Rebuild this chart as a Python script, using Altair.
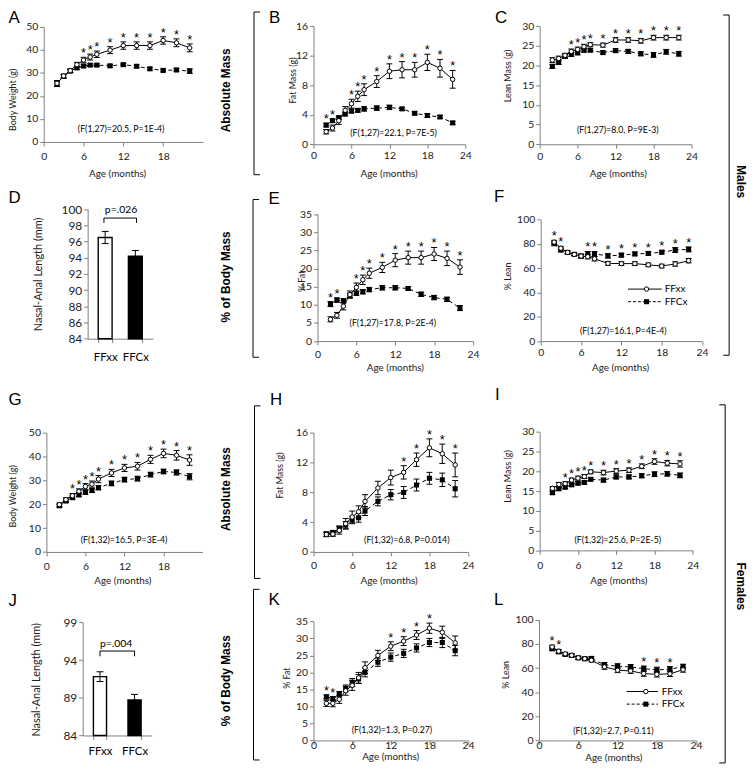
import altair as alt
import pandas as pd

OFF = 8
W, H = 746, 758


def c(v):
    return v - OFF


FONT = "Lato"
LFONT = "Liberation Sans"
AXC = "#808080"

ages = [2, 3, 4, 5, 6, 7, 8, 10, 12, 14, 16, 18, 20, 22]
groups = ["FFxx", "FFCx"]

# ---------------- data (means and SEM) ----------------
A_xx = [25.5, 28.7, 31.0, 33.6, 35.6, 36.9, 38.1, 39.9, 41.9, 41.9, 41.9, 44.1, 43.1, 40.9]
A_xx_se = [1.2, 0.8, 0.8, 1.0, 1.2, 1.3, 1.4, 1.5, 1.6, 1.6, 1.6, 1.6, 1.7, 1.7]
A_cx = [25.3, 28.5, 30.8, 32.2, 33.0, 33.4, 33.4, 33.1, 33.6, 32.9, 31.8, 31.1, 31.3, 30.8]
A_cx_se = [1.2, 0.8, 0.6, 0.6, 0.6, 0.6, 0.6, 0.6, 0.6, 0.6, 0.6, 0.6, 0.7, 1.0]
A_stars = [6, 7, 8, 10, 12, 14, 16, 18, 20, 22]

B_xx = [1.7, 2.2, 3.2, 4.6, 5.5, 6.5, 7.4, 8.5, 9.9, 10.1, 10.1, 11.1, 10.3, 8.8]
B_xx_se = [0.3, 0.4, 0.5, 0.5, 0.6, 0.7, 0.8, 0.8, 1.0, 1.1, 1.0, 1.1, 1.2, 1.2]
B_cx = [2.6, 3.2, 3.6, 4.1, 4.5, 4.6, 4.8, 4.9, 5.0, 4.8, 4.2, 3.9, 3.7, 2.9]
B_cx_se = [0.25, 0.25, 0.25, 0.25, 0.25, 0.25, 0.3, 0.3, 0.3, 0.2, 0.2, 0.25, 0.2, 0.2]
B_stars = [2, 3, 6, 7, 8, 10, 12, 14, 16, 18, 20, 22]

C_xx = [21.4, 21.8, 22.6, 23.6, 24.1, 24.8, 25.3, 25.2, 26.5, 26.5, 26.3, 27.1, 27.1, 27.1]
C_xx_se = [0.6, 0.6, 0.5, 0.6, 0.6, 0.6, 0.5, 0.5, 0.6, 0.6, 0.6, 0.6, 0.6, 0.6]
C_cx = [19.8, 20.9, 22.3, 22.8, 23.3, 23.9, 23.9, 23.3, 23.8, 23.6, 23.0, 22.7, 23.5, 23.0]
C_cx_se = [0.5, 0.6, 0.5, 0.5, 0.6, 0.5, 0.4, 0.4, 0.5, 0.5, 0.5, 0.6, 0.6, 0.6]
C_stars = [5, 6, 7, 8, 10, 12, 14, 16, 18, 20, 22]

E_xx = [6.0, 7.1, 9.6, 12.8, 14.8, 16.9, 18.7, 20.3, 22.3, 23.0, 23.0, 24.0, 22.8, 20.4]
E_xx_se = [0.7, 0.8, 1.0, 1.0, 1.2, 1.3, 1.4, 1.4, 1.8, 1.8, 1.8, 1.8, 2.0, 2.0]
E_cx = [10.2, 11.3, 11.1, 12.6, 13.2, 13.6, 14.2, 14.7, 14.7, 14.5, 12.9, 12.0, 11.5, 9.1]
E_cx_se = [0.7, 0.6, 0.6, 0.6, 0.6, 0.6, 0.6, 0.6, 0.6, 0.5, 0.6, 0.6, 0.6, 0.7]
E_stars = [2, 3, 6, 7, 8, 10, 12, 14, 16, 18, 20, 22]

F_xx = [81.5, 76.5, 73.0, 71.4, 70.0, 69.5, 67.8, 64.0, 63.8, 63.8, 62.8, 61.8, 63.5, 66.2]
F_xx_se = [1.5, 1.5, 1.2, 1.0, 1.5, 1.8, 1.8, 1.5, 1.5, 1.5, 1.5, 1.5, 1.8, 1.8]
F_cx = [80.2, 75.0, 73.0, 71.4, 70.0, 71.8, 71.8, 70.2, 70.8, 71.8, 72.2, 73.2, 75.0, 75.5]
F_cx_se = [1.5, 1.5, 1.2, 1.0, 1.5, 2.0, 2.0, 1.8, 1.5, 1.5, 1.5, 1.5, 2.0, 2.0]
F_stars = [2, 3, 7, 8, 10, 12, 14, 16, 18, 20, 22]

G_xx = [19.9, 22.0, 23.6, 25.5, 27.5, 28.5, 30.6, 33.2, 35.3, 36.0, 38.9, 41.4, 40.6, 38.6]
G_xx_se = [0.7, 0.8, 1.0, 1.0, 1.2, 1.3, 1.5, 1.5, 1.5, 1.6, 1.7, 1.8, 2.0, 2.2]
G_cx = [19.4, 21.4, 22.8, 24.0, 25.0, 25.8, 27.0, 28.8, 30.4, 30.8, 32.5, 33.8, 33.4, 31.6]
G_cx_se = [0.6, 0.6, 0.7, 0.8, 0.8, 0.8, 0.9, 1.0, 1.0, 1.0, 1.0, 1.0, 1.1, 1.3]
G_stars = [4, 5, 6, 7, 8, 10, 12, 14, 16, 18, 20, 22]

H_xx = [2.35, 2.4, 2.9, 3.8, 4.7, 5.4, 6.8, 8.6, 10.0, 10.7, 12.4, 14.0, 13.2, 11.7]
H_xx_se = [0.3, 0.3, 0.5, 0.7, 0.8, 0.8, 0.9, 0.9, 1.0, 0.9, 0.9, 1.2, 1.3, 1.6]
H_cx = [2.4, 2.6, 3.1, 3.6, 4.3, 4.6, 5.5, 6.8, 7.7, 8.0, 9.0, 9.9, 9.7, 8.5]
H_cx_se = [0.3, 0.3, 0.4, 0.5, 0.5, 0.6, 0.6, 0.6, 0.7, 0.8, 0.8, 0.8, 0.9, 1.1]
H_stars = [14, 16, 18, 20, 22]

I_xx = [15.7, 16.7, 16.9, 17.8, 18.3, 18.7, 19.9, 19.7, 20.1, 20.3, 21.3, 22.5, 22.1, 21.9]
I_xx_se = [0.4, 0.5, 0.5, 0.5, 0.5, 0.5, 0.5, 0.6, 0.6, 0.6, 0.6, 0.7, 0.7, 0.8]
I_cx = [14.6, 15.6, 16.0, 16.6, 17.0, 17.2, 18.0, 17.8, 18.6, 18.6, 18.9, 19.3, 19.4, 19.0]
I_cx_se = [0.4, 0.4, 0.4, 0.4, 0.4, 0.4, 0.4, 0.5, 0.5, 0.5, 0.5, 0.6, 0.6, 0.6]
I_stars = [4, 5, 6, 7, 8, 10, 12, 14, 16, 18, 20, 22]

K_xx = [10.9, 10.9, 12.1, 14.6, 16.2, 18.4, 21.4, 25.0, 27.7, 29.2, 31.0, 33.0, 31.8, 28.7]
K_xx_se = [0.9, 1.0, 1.2, 1.3, 1.5, 1.6, 1.7, 1.5, 1.3, 1.3, 1.3, 1.5, 1.8, 2.0]
K_cx = [12.8, 12.3, 13.6, 15.3, 17.0, 18.1, 20.0, 23.0, 24.5, 25.6, 27.2, 28.8, 28.8, 26.4]
K_cx_se = [0.6, 0.6, 0.8, 1.0, 1.2, 1.3, 1.3, 1.2, 1.2, 1.2, 1.2, 1.2, 1.5, 1.5]
K_stars = [2, 3, 12, 14, 16, 18]

L_xx = [77.5, 74.0, 71.8, 70.6, 68.5, 67.8, 66.5, 61.0, 58.2, 57.6, 55.4, 54.8, 55.2, 58.6]
L_xx_se = [1.5, 1.5, 1.2, 1.2, 1.2, 1.2, 1.5, 2.0, 2.0, 2.0, 2.2, 2.2, 2.2, 2.0]
L_cx = [76.0, 73.5, 71.3, 70.5, 68.5, 67.7, 68.0, 62.6, 61.6, 60.9, 59.5, 58.5, 59.0, 61.2]
L_cx_se = [1.5, 1.5, 1.2, 1.2, 1.2, 1.2, 1.5, 2.0, 2.0, 2.0, 2.2, 2.2, 2.2, 2.0]
L_stars = [2, 3, 16, 18, 20]

D_means = [96.5, 94.2]
D_sems = [0.75, 0.7]
J_means = [91.8, 88.7]
J_sems = [0.65, 0.75]

# ---------------- layout (image pixel coordinates) ----------------
GEOM = {
    "A": dict(x0=44, xpm=6.69, xmax=24, xticks=[0, 6, 12, 18], y0=140, y1=24, ymax=50, ystep=10,
              ytitle="Body Weight (g)", ytx=13, yty=97, xtx=118, xty=172, xlp=10.3,
              note="(F(1,27)=20.5, P=1E-4)", nx=122, ny=127, letter="A", lx=8.5, ly=15),
    "B": dict(x0=316, xpm=6.375, xmax=24, xticks=[0, 6, 12, 18, 24], y0=142.3, y1=23.3, ymax=16, ystep=4,
              ytitle="Fat Mass (g)", ytx=295, yty=77.5, xtx=391.7, xty=172, xlp=7.7,
              note="(F(1,27)=22.1, P=7E-5)", nx=396.7, ny=130.7, letter="B", lx=271, ly=15),
    "C": dict(x0=544, xpm=6.375, xmax=24, xticks=[0, 6, 12, 18, 24], y0=142.3, y1=23.3, ymax=30, ystep=5,
              ytitle="Lean Mass (g)", ytx=511.7, yty=73, xtx=622.7, xty=172.3, xlp=8.7,
              note="(F(1,27)=8.0, P=9E-3)", nx=622.7, ny=128.3, letter="C", lx=499, ly=15),
    "E": dict(x0=320, xpm=6.53, xmax=24, xticks=[0, 6, 12, 18, 24], y0=340.7, y1=212.7, ymax=35, ystep=5,
              ytitle="% Fat", ytx=304, yty=280, xtx=398, xty=367, xlp=10,
              note="(F(1,27)=17.8, P=2E-4)", nx=396, ny=322.3, letter="E", lx=270.5, ly=198),
    "F": dict(x0=545, xpm=6.78, xmax=24, xticks=[0, 6, 12, 18, 24], y0=340.7, y1=218.3, ymax=100, ystep=20,
              ytitle="% Lean", ytx=511.7, yty=275, xtx=625, xty=367, xlp=7.7,
              note="(F(1,27)=16.1, P=4E-4)", nx=628.3, ny=330.7, letter="F", lx=498, ly=195),
    "G": dict(x0=46.7, xpm=6.56, xmax=24, xticks=[0, 6, 12, 18], y0=553.3, y1=433.3, ymax=50, ystep=10,
              ytitle="Body Weight (g)", ytx=13, yty=496.7, xtx=123.3, xty=581.7, xlp=10.4,
              note="(F(1,32)=16.5, P=3E-4)", nx=125, ny=541, letter="G", lx=8.5, ly=400),
    "H": dict(x0=316, xpm=6.49, xmax=24, xticks=[0, 6, 12, 18, 24], y0=553.3, y1=433.3, ymax=16, ystep=4,
              ytitle="Fat Mass (g)", ytx=281.7, yty=475.7, xtx=391.7, xty=581.7, xlp=10,
              note="(F(1,32)=6.8, P=0.014)", nx=410, ny=541, letter="H", lx=272, ly=400),
    "I": dict(x0=544, xpm=6.43, xmax=24, xticks=[0, 6, 12, 18, 24], y0=551.7, y1=432.3, ymax=30, ystep=5,
              ytitle="Lean Mass (g)", ytx=511.7, yty=476.7, xtx=623.3, xty=581.7, xlp=11,
              note="(F(1,32)=25.6, P=2E-5)", nx=622.7, ny=541, letter="I", lx=499, ly=395),
    "K": dict(x0=316, xpm=6.49, xmax=24, xticks=[0, 6, 12, 18, 24], y0=743.3, y1=623.3, ymax=35, ystep=5,
              ytitle="% Fat", ytx=288.3, yty=680, xtx=393.3, xty=760, xlp=0.7,
              note="(F(1,32)=1.3, P=0.27)", nx=395, ny=733.3, letter="K", lx=270.5, ly=601.7),
    "L": dict(x0=543.3, xpm=6.6, xmax=24, xticks=[0, 6, 12, 18, 24], y0=743.3, y1=621.7, ymax=100, ystep=20,
              ytitle="% Lean", ytx=509.3, yty=676.7, xtx=618.3, xty=760.5, xlp=1.2,
              note="(F(1,32)=2.7, P=0.11)", nx=618.3, ny=734, letter="L", lx=498, ly=601.7),
}

SERIES = {
    "A": (A_xx, A_xx_se, A_cx, A_cx_se, A_stars),
    "B": (B_xx, B_xx_se, B_cx, B_cx_se, B_stars),
    "C": (C_xx, C_xx_se, C_cx, C_cx_se, C_stars),
    "E": (E_xx, E_xx_se, E_cx, E_cx_se, E_stars),
    "F": (F_xx, F_xx_se, F_cx, F_cx_se, F_stars),
    "G": (G_xx, G_xx_se, G_cx, G_cx_se, G_stars),
    "H": (H_xx, H_xx_se, H_cx, H_cx_se, H_stars),
    "I": (I_xx, I_xx_se, I_cx, I_cx_se, I_stars),
    "K": (K_xx, K_xx_se, K_cx, K_cx_se, K_stars),
    "L": (L_xx, L_xx_se, L_cx, L_cx_se, L_stars),
}

DUMMY = pd.DataFrame({"d": [0]})
layers = []


def text_at(txt, x, y, size, font=FONT, weight="normal", angle=0, align="center", baseline="middle"):
    kw = dict(text=txt, font=font, fontSize=size, fontWeight=weight, align=align,
              baseline=baseline, color="black")
    if angle:
        kw["angle"] = angle
    return alt.Chart(DUMMY).mark_text(**kw).encode(x=alt.value(c(x)), y=alt.value(c(y)))


def hrule(x1, x2, y, dash=None, width=1, color="black"):
    kw = dict(color=color, strokeWidth=width)
    if dash:
        kw["strokeDash"] = dash
    return alt.Chart(DUMMY).mark_rule(**kw).encode(
        x=alt.value(c(x1)), x2=alt.value(c(x2)), y=alt.value(c(y)))


def vrule(x, y1, y2, width=1, color="black"):
    return alt.Chart(DUMMY).mark_rule(color=color, strokeWidth=width).encode(
        x=alt.value(c(x)), y=alt.value(c(y1)), y2=alt.value(c(y2)))


def line_panel(key):
    g = GEOM[key]
    m_xx, s_xx, m_cx, s_cx, star_ages = SERIES[key]
    rows = []
    for grp, m, s in (("FFxx", m_xx, s_xx), ("FFCx", m_cx, s_cx)):
        for a, mm, ss in zip(ages, m, s):
            rows.append({"age": a, "group": grp, "mean": mm, "lo": mm - ss, "hi": mm + ss})
    df = pd.DataFrame(rows)
    top = df.groupby("age")["hi"].max()
    sdf = pd.DataFrame({"age": star_ages, "top": [float(top[a]) for a in star_ages]})

    xs = alt.Scale(domain=[0, g["xmax"]], range=[c(g["x0"]), c(g["x0"] + g["xmax"] * g["xpm"])],
                   nice=False, zero=False)
    ys = alt.Scale(domain=[0, g["ymax"]], range=[c(g["y0"]), c(g["y1"])], nice=False, zero=False)
    yticks = list(range(0, g["ymax"] + 1, g["ystep"]))
    xaxis = alt.Axis(orient="bottom", offset=c(g["y0"]) - H, values=g["xticks"], title="Age (months)",
                     titleX=c(g["xtx"]), titleY=g["xty"] - g["y0"], titleBaseline="middle",
                     titleAlign="center", titleFontSize=10, labelFontSize=10.5,
                     labelPadding=g["xlp"], labelBaseline="middle", labelFlush=False,
                     labelOverlap=False)
    yaxis = alt.Axis(orient="left", offset=-c(g["x0"]), values=yticks, title=g["ytitle"],
                     titleX=g["ytx"] - g["x0"], titleY=c(g["yty"]), titleAngle=270,
                     titleBaseline="middle", titleAlign="center", titleFontSize=9,
                     labelFontSize=10.5, labelPadding=2, labelFlush=False, labelOverlap=False)
    Xn = alt.X("age:Q", scale=xs, axis=None)
    base = alt.Chart(df)
    xx = "datum.group == 'FFxx'"
    cx = "datum.group == 'FFCx'"
    out = [
        base.transform_filter(xx).mark_line(color="black", strokeWidth=1).encode(
            x=alt.X("age:Q", scale=xs, axis=xaxis), y=alt.Y("mean:Q", scale=ys, axis=yaxis)),
        base.transform_filter(cx).mark_line(color="black", strokeWidth=1, strokeDash=[4, 3]).encode(
            x=Xn, y=alt.Y("mean:Q", scale=ys, axis=None)),
        base.mark_rule(color="black", strokeWidth=1).encode(
            x=Xn, y=alt.Y("lo:Q", scale=ys, axis=None), y2="hi:Q"),
        base.mark_tick(orient="horizontal", size=6, thickness=1, color="black", opacity=1).encode(
            x=Xn, y=alt.Y("lo:Q", scale=ys, axis=None)),
        base.mark_tick(orient="horizontal", size=6, thickness=1, color="black", opacity=1).encode(
            x=Xn, y=alt.Y("hi:Q", scale=ys, axis=None)),
        base.transform_filter(cx).mark_point(shape="square", filled=True, color="black", size=26,
                                             opacity=1).encode(
            x=Xn, y=alt.Y("mean:Q", scale=ys, axis=None)),
        base.transform_filter(xx).mark_point(shape="circle", filled=True, fill="white", stroke="black",
                                             strokeWidth=1, size=20, opacity=1).encode(
            x=Xn, y=alt.Y("mean:Q", scale=ys, axis=None)),
        alt.Chart(sdf).mark_text(text="*", font=LFONT, fontSize=13, dy=0, baseline="alphabetic",
                                 color="black").encode(
            x=alt.X("age:Q", scale=xs, axis=None), y=alt.Y("top:Q", scale=ys, axis=None)),
        text_at(g["note"], g["nx"], g["ny"], 8.8),
        text_at(g["letter"], g["lx"], g["ly"], 17, font=LFONT, align="left"),
    ]
    return out


BGEOM = {
    "D": dict(means=D_means, sems=D_sems, bx0=88.3, bx1=154, pi=0.54, po=0.35, y0=338.3, y1=207.7,
              ymin=84, ymax=100, yticks=list(range(84, 101, 2)), ytx=38.3, yty=273, lab_off=19,
              br_lo=98.3, br_hi=98.9, p="p=.026", px=122, py=209, letter="D", lx=8.5, ly=197,
              tfs=12),
    "J": dict(means=J_means, sems=J_sems, bx0=83.3, bx1=153, pi=0.62, po=0.31, y0=738.3, y1=624.3,
              ymin=84, ymax=99, yticks=[84, 89, 94, 99], ytx=36.7, yty=681.7, lab_off=15.7,
              br_lo=94.5, br_hi=95.2, p="p=.004", px=117, py=646, letter="J", lx=8.5, ly=603,
              tfs=12),
}


def bar_panel(key):
    g = BGEOM[key]
    df = pd.DataFrame({"cat": groups, "mean": g["means"],
                       "lo": [m - s for m, s in zip(g["means"], g["sems"])],
                       "hi": [m + s for m, s in zip(g["means"], g["sems"])]})
    bdf = pd.DataFrame({"cat": ["FFxx", "FFxx", "FFCx", "FFCx"],
                        "v": [g["br_lo"], g["br_hi"], g["br_hi"], g["br_lo"]], "o": [0, 1, 2, 3]})
    xs = alt.Scale(domain=groups, range=[c(g["bx0"]), c(g["bx1"])], paddingInner=g["pi"],
                   paddingOuter=g["po"])
    ys = alt.Scale(domain=[g["ymin"], g["ymax"]], range=[c(g["y0"]), c(g["y1"])], nice=False,
                   zero=False)
    xaxis = alt.Axis(orient="bottom", offset=c(g["y0"]) - H, title=None, labelAngle=0,
                     tickBand="extent", labelFontSize=11.5, labelPadding=g["lab_off"] - 4,
                     labelBaseline="middle", labelColor="black")
    yaxis = alt.Axis(orient="left", offset=-c(g["bx0"]), values=g["yticks"],
                     title="Nasal-Anal Length (mm)", titleX=g["ytx"] - g["bx0"], titleY=c(g["yty"]),
                     titleAngle=270, titleBaseline="middle", titleAlign="center", titleFontSize=11,
                     labelFontSize=g["tfs"], labelPadding=2, labelFlush=False, labelOverlap=False)
    base = alt.Chart(df)
    Xn = alt.X("cat:N", scale=xs, axis=None)
    out = [
        base.transform_filter("datum.cat == 'FFxx'").mark_bar(fill="white", stroke="black",
                                                             strokeWidth=1.4).encode(
            x=alt.X("cat:N", scale=xs, axis=xaxis, sort=groups),
            y=alt.Y("mean:Q", scale=ys, axis=yaxis), y2=alt.datum(g["ymin"])),
        base.transform_filter("datum.cat == 'FFCx'").mark_bar(fill="black", stroke="black",
                                                             strokeWidth=1.4).encode(
            x=Xn, y=alt.Y("mean:Q", scale=ys, axis=None), y2=alt.datum(g["ymin"])),
        base.mark_rule(color="black", strokeWidth=1).encode(
            x=Xn, y=alt.Y("lo:Q", scale=ys, axis=None), y2="hi:Q"),
        base.mark_tick(orient="horizontal", size=7, thickness=1, color="black", opacity=1).encode(
            x=Xn, y=alt.Y("lo:Q", scale=ys, axis=None)),
        base.mark_tick(orient="horizontal", size=7, thickness=1, color="black", opacity=1).encode(
            x=Xn, y=alt.Y("hi:Q", scale=ys, axis=None)),
        alt.Chart(bdf).mark_line(color="black", strokeWidth=1).encode(
            x=Xn, y=alt.Y("v:Q", scale=ys, axis=None), order="o:Q"),
        text_at(g["p"], g["px"], g["py"], 10.5),
        text_at(g["letter"], g["lx"], g["ly"], 17, font=LFONT, align="left"),
    ]
    return out


for k in ["A", "B", "C", "E", "F", "G", "H", "I", "K", "L"]:
    layers += line_panel(k)
for k in ["D", "J"]:
    layers += bar_panel(k)

# legends in F and L
for (yxx, ycx, lx1, lx2, mx, tx) in [(288.3, 301, 633, 667, 651.7, 670), (694, 706.7, 631.7, 663.3, 651, 667)]:
    layers.append(hrule(lx1, lx2, yxx))
    layers.append(hrule(lx1, lx2, ycx, dash=[3, 2]))
    layers.append(alt.Chart(DUMMY).mark_point(shape="square", filled=True, color="black", size=26,
                                              opacity=1).encode(x=alt.value(c(mx)), y=alt.value(c(ycx))))
    layers.append(alt.Chart(DUMMY).mark_point(shape="circle", filled=True, fill="white", stroke="black",
                                              strokeWidth=1, size=20, opacity=1).encode(
        x=alt.value(c(mx)), y=alt.value(c(yxx))))
    layers.append(text_at("FFxx", tx, yxx, 10, align="left"))
    layers.append(text_at("FFCx", tx, ycx, 10, align="left"))

# left brackets with section labels
for (bx, yt, yb, label, ty) in [(256, 9, 173, "Absolute Mass", 88), (255, 198, 357, "% of Body Mass", 276),
                                (256.5, 406, 580, "Absolute Mass", 490), (255.5, 591, 763, "% of Body Mass", 683)]:
    layers.append(vrule(bx, yt, yb))
    layers.append(hrule(bx, bx + 6, yt))
    layers.append(hrule(bx, bx + 6, yb))
    layers.append(text_at(label, 228, ty, 12, font=LFONT, weight="bold", angle=270))

# right brackets with sex labels
for (bx, yt, yb, label, ty) in [(735, 12, 355, "Males", 180), (731, 405, 766, "Females", 588)]:
    layers.append(vrule(bx, yt, yb))
    layers.append(hrule(bx - 6, bx, yt))
    layers.append(hrule(bx - 6, bx, yb))
    layers.append(text_at(label, 747, ty, 12, font=LFONT, weight="bold", angle=90))

chart = alt.layer(*layers).resolve_scale(x="independent", y="independent").properties(
    width=W, height=H, padding=0, autosize=alt.AutoSizeParams(type="none")
).configure_view(stroke=None).configure_axis(
    grid=False, domainColor=AXC, tickColor=AXC, tickSize=4, domainWidth=1, tickWidth=1,
    labelFont=FONT, labelColor="#222", titleFont=FONT, titleColor="#222", titleFontWeight="normal"
)

chart.save("out.html", embed_options={"renderer": "svg", "actions": False})
